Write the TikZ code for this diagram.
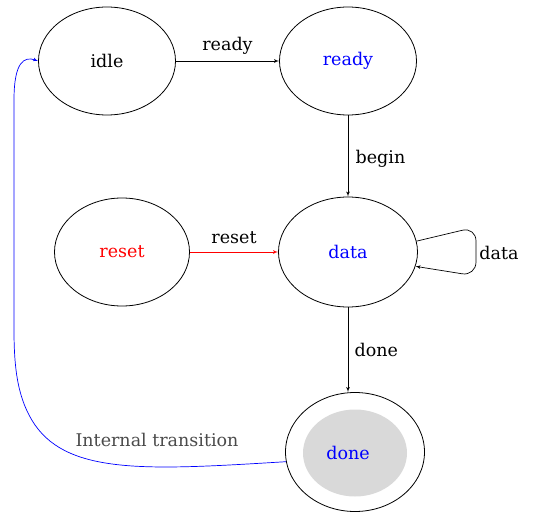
\documentclass[tikz,border=0pt]{standalone}
\usepackage{fontspec}
\setmainfont{DejaVu Serif}
\usetikzlibrary{arrows}
\usetikzlibrary{shapes.geometric}
\definecolor{fillgray}{HTML}{D9D9D9}
\definecolor{labelgray}{HTML}{4A4A4A}

\begin{document}
\begin{tikzpicture}[>=latex',line join=bevel,x=1pt,y=-1pt,
    font=\fontsize{17.5}{20}\selectfont,
    state/.style={ellipse,draw,line width=0.8pt,minimum width=137pt,minimum height=108pt,inner sep=0pt},
    trans/.style={color=black,line width=0.7pt,->}]
        \useasboundingbox (0,0) rectangle (541,516);
        %
        \node (idle) at (107,61) [state] {idle};
        \node (ready) at (348,61) [state] {\textcolor{blue}{ready}};
        \node (reset) at (122,252) [state,minimum width=135pt] {\textcolor{red}{reset}};
        \node (data) at (348,252) [state,minimum width=139pt,minimum height=110pt] {\textcolor{blue}{data}};
        \fill [fillgray] (355,453) ellipse [x radius=52,y radius=43.5];
        \node (done) at (355,452) [state,minimum width=139pt,minimum height=119pt] {};
        \node (donetext) at (348,453) {\textcolor{blue}{done}};
        %
        \draw [trans] (idle) to node[above,yshift=3pt] (lready) {ready} (ready);
        \draw [trans] (ready) to node[right,xshift=4pt,yshift=-3pt] (lbegin) {begin} (data);
        \draw [trans,color=red] (reset) to node[above,yshift=5pt,text=black] (lreset) {reset} (data);
        \draw [trans] (data) to node[right,xshift=3pt] (ldone) {done} (done.north -| data);
        \draw [trans,rounded corners=14pt] (data.9) -- (476,227) -- (476,276) -- (data.-12);
        \node (ldata) at (499,253) {data};
        %
        \draw [trans,color=blue] (done.188) .. controls (150,470) and (70,475) .. (35,425)
            .. controls (18,400) and (14,370) .. (14,330)
            -- (14,100) .. controls (14,62) and (24,56) .. (idle.west);
        \node (linternal) at (157,440) [text=labelgray] {Internal transition};
        %
    \end{tikzpicture}
\end{document}
